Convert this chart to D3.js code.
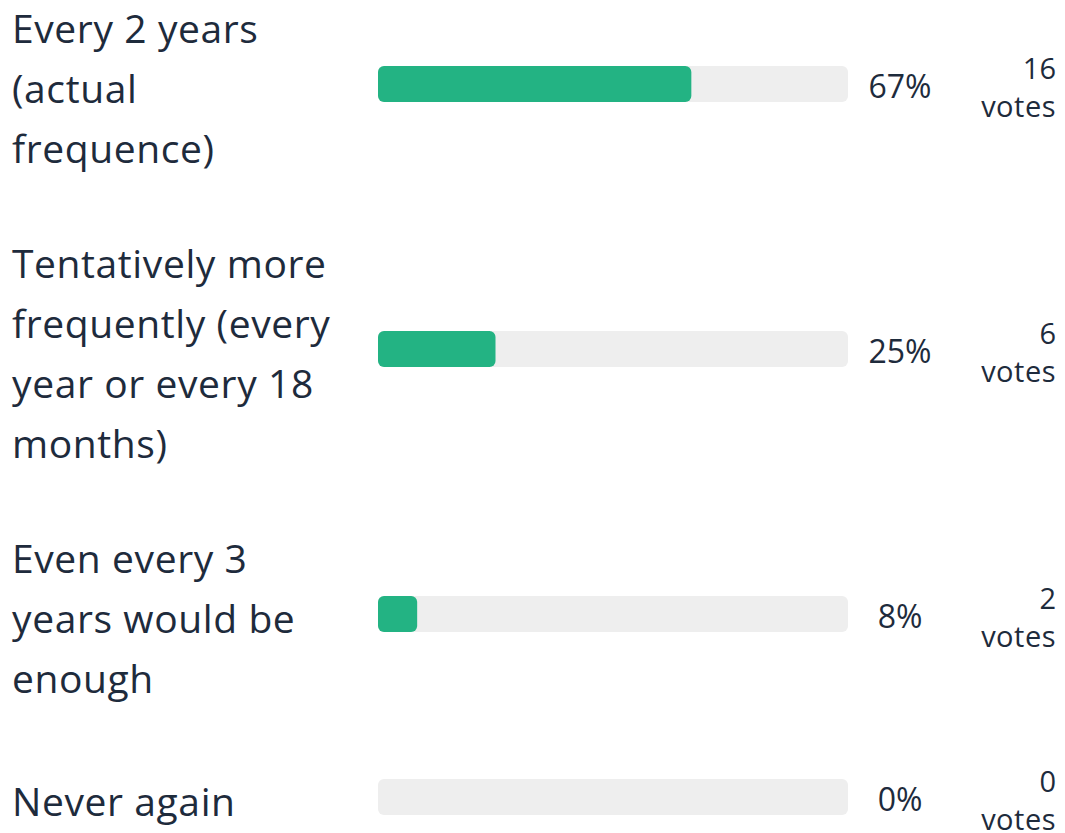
<!DOCTYPE html>
<html>
<head>
<meta charset="utf-8">
<script src="https://cdn.jsdelivr.net/npm/d3@7"></script>
<style>
  html, body { margin: 0; padding: 0; background: #fff; }
  svg { display: block; font-family: "Open Sans", Lato, sans-serif; }
</style>
</head>
<body>
<div id="chart"></div>
<script>
// poll options, one entry per line of the wrapped label
const labels = [
    ["Every 2 years", "(actual", "frequence)"],
    ["Tentatively more", "frequently (every", "year or every 18", "months)"],
    ["Even every 3", "years would be", "enough"],
    ["Never again"]
];
const votes = [16, 6, 2, 0];

const width = 1065;
const height = 833;
const lineH = 60;
const rowGap = 55;
const minRowH = 76;
const textColor = "#1e2b3c";

const total = d3.sum(votes);
const pct = d3.format(".0%");

const svg = d3.select("#chart")
    .append("svg")
    .attr("width", width)
    .attr("height", height);

const x = d3.scaleLinear()
    .domain([0, total])
    .range([378, 848]);

// stack the rows: each row is as tall as its label (or the votes block)
let rowTop = 0;
const rows = labels.map((lines, i) => {
    const h = Math.max(lines.length * lineH, minRowH);
    const mid = rowTop + h / 2;
    rowTop += h + rowGap;
    return { lines, votes: votes[i], mid };
});

const row = svg.selectAll("g.row")
    .data(rows)
    .enter().append("g")
    .attr("class", "row");

// label text
row.append("text")
    .attr("x", 12)
    .attr("fill", textColor)
    .style("font-size", "39px")
    .style("letter-spacing", "0.6px")
    .each(function(d) {
        const first = d.mid - d.lines.length * lineH / 2 + 43;
        d3.select(this).selectAll("tspan")
            .data(d.lines)
            .enter().append("tspan")
            .attr("x", 12)
            .attr("y", (l, j) => first + j * lineH)
            .text(l => l);
    });

// track
row.append("rect")
    .attr("x", x(0))
    .attr("y", d => d.mid - 6 - 18)
    .attr("width", x(total) - x(0))
    .attr("height", 36)
    .attr("rx", 6)
    .attr("fill", "#eeeeee");

// value bar
row.filter(d => d.votes > 0).append("rect")
    .attr("x", x(0))
    .attr("y", d => d.mid - 6 - 18)
    .attr("width", d => x(d.votes) - x(0))
    .attr("height", 36)
    .attr("rx", 6)
    .attr("fill", "#23b383");

// percent
row.append("text")
    .attr("x", 900)
    .attr("y", d => d.mid - 6 + 14)
    .attr("text-anchor", "middle")
    .attr("fill", textColor)
    .style("font-size", "32px")
    .text(d => pct(d.votes / total));

// votes count
row.append("text")
    .attr("x", 1056)
    .attr("y", d => d.mid - 6 - 5)
    .attr("text-anchor", "end")
    .attr("fill", textColor)
    .style("font-size", "29px")
    .text(d => d.votes);

row.append("text")
    .attr("x", 1056)
    .attr("y", d => d.mid - 6 + 33)
    .attr("text-anchor", "end")
    .attr("fill", textColor)
    .style("font-size", "29px")
    .style("letter-spacing", "0.5px")
    .text("votes");
</script>
</body>
</html>
